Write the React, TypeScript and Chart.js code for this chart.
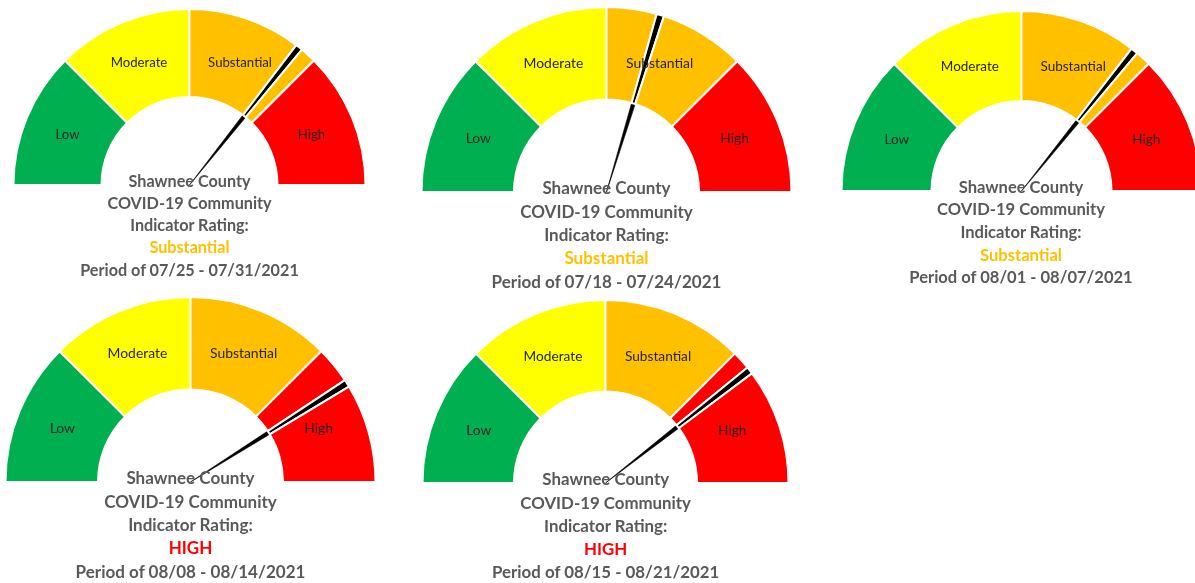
import React, { useEffect, useRef } from "react";
import { Chart, ArcElement, DoughnutController } from "chart.js";

Chart.register(ArcElement, DoughnutController);

// ---- data ----
const categories = ["Low", "Moderate", "Substantial", "High"];
const bandEdges = [0, 25, 50, 75, 100];
const bandColors = ["#00B050", "#FFFF00", "#FFC000", "#FF0000"];
const titleLines = ["Shawnee County", "COVID-19 Community", "Indicator Rating:"];
const periods = [
  "07/25 - 07/31/2021",
  "07/18 - 07/24/2021",
  "08/01 - 08/07/2021",
  "08/08 - 08/14/2021",
  "08/15 - 08/21/2021",
];
const ratings = ["Substantial", "Substantial", "Substantial", "HIGH", "HIGH"];
const ratingColors = ["#FFC000", "#FFC000", "#FFC000", "#FF0000", "#FF0000"];
// needle position on a 0-100 scale (Low 0-25, Moderate 25-50, Substantial 50-75, High 75-100)
const needleValues = [71.4, 59.4, 71.6, 82.1, 78.9];
const needleWidth = 1.3;

// ---- layout (centre and radius of each gauge in page pixels) ----
const layout = [
  { cx: 189.5, cy: 186, r: 176 },
  { cx: 606.5, cy: 193, r: 185 },
  { cx: 1021, cy: 192, r: 180 },
  { cx: 190.5, cy: 483, r: 185 },
  { cx: 605.7, cy: 484, r: 183 },
];

function ringData(v: number) {
  const data: number[] = [];
  const colors: string[] = [];
  for (let i = 0; i < categories.length; i++) {
    const lo = bandEdges[i];
    const hi = bandEdges[i + 1];
    if (v >= lo && v < hi) {
      data.push(v - needleWidth / 2 - lo, needleWidth, hi - v - needleWidth / 2);
      colors.push(bandColors[i], "#000000", bandColors[i]);
    } else {
      data.push(hi - lo);
      colors.push(bandColors[i]);
    }
  }
  return { data, colors };
}

const bandLabelPlugin = {
  id: "bandLabels",
  afterDatasetsDraw(chart: any) {
    const meta = chart.getDatasetMeta(0);
    const arc = meta.data[0];
    if (!arc) return;
    const { x, y, innerRadius, outerRadius } = arc.getProps(
      ["x", "y", "innerRadius", "outerRadius"],
      true
    );
    const rMid = (innerRadius + outerRadius) / 2;
    const fs = Math.round(outerRadius * 0.075 * 10) / 10;
    const ctx = chart.ctx;
    ctx.save();
    ctx.font = `${fs}px Lato`;
    ctx.fillStyle = "#262626";
    ctx.textAlign = "center";
    ctx.textBaseline = "middle";
    categories.forEach((c, i) => {
      const mid = (bandEdges[i] + bandEdges[i + 1]) / 2;
      const ang = Math.PI + (mid / 100) * Math.PI;
      ctx.fillText(c, x + rMid * Math.cos(ang), y + rMid * Math.sin(ang));
    });
    ctx.restore();
  },
};

function Gauge({ index }: { index: number }) {
  const ref = useRef<HTMLCanvasElement | null>(null);
  const { cx, cy, r } = layout[index];
  const rc = r + 1.5; // canvas half-width (room for arc borders)
  const w = Math.round(2 * rc);
  const h = Math.round(rc);
  useEffect(() => {
    if (!ref.current) return;
    const v = needleValues[index];
    const ring = ringData(v);
    const chart = new Chart(ref.current, {
      type: "doughnut",
      data: {
        datasets: [
          {
            data: ring.data,
            backgroundColor: ring.colors,
            borderColor: "#FFFFFF",
            borderWidth: 2,
            hoverOffset: 0,
            weight: 1,
          },
          {
            data: [v - needleWidth / 2, needleWidth, 100 - v - needleWidth / 2],
            backgroundColor: ["rgba(0,0,0,0)", "#000000", "rgba(0,0,0,0)"],
            borderColor: ["rgba(0,0,0,0)", "#000000", "rgba(0,0,0,0)"],
            borderWidth: [0, 0.6, 0],
            hoverOffset: 0,
            weight: 1,
          },
        ],
      },
      options: {
        responsive: false,
        animation: false,
        events: [],
        rotation: -90,
        circumference: 180,
        cutout: 0,
        layout: { padding: 0 },
      } as any,
      plugins: [bandLabelPlugin],
    });
    return () => chart.destroy();
  }, [index]);

  const fs = r * 0.092;
  const lh = r * 0.126;
  const lines = [...titleLines, ratings[index], "Period of " + periods[index]];
  return (
    <>
      <canvas
        ref={ref}
        width={w}
        height={h}
        style={{ position: "absolute", left: cx - w / 2, top: cy - h, width: w, height: h }}
      />
      {lines.map((t, i) => (
        <div
          key={i}
          style={{
            position: "absolute",
            left: cx - 200,
            width: 400,
            top: cy - 5 + i * lh - lh / 2,
            height: lh,
            lineHeight: `${lh}px`,
            textAlign: "center",
            fontFamily: "Lato, 'Open Sans', sans-serif",
            fontWeight: 700,
            fontSize: fs,
            color: i === 3 ? ratingColors[index] : "#595959",
            whiteSpace: "nowrap",
          }}
        >
          {t}
        </div>
      ))}
    </>
  );
}

export default function App() {
  return (
    <div
      style={{
        position: "absolute",
        left: 0,
        top: 0,
        width: 1195,
        height: 583,
        background: "#FFFFFF",
        overflow: "hidden",
      }}
    >
      {layout.map((_, i) => (
        <Gauge key={i} index={i} />
      ))}
    </div>
  );
}
